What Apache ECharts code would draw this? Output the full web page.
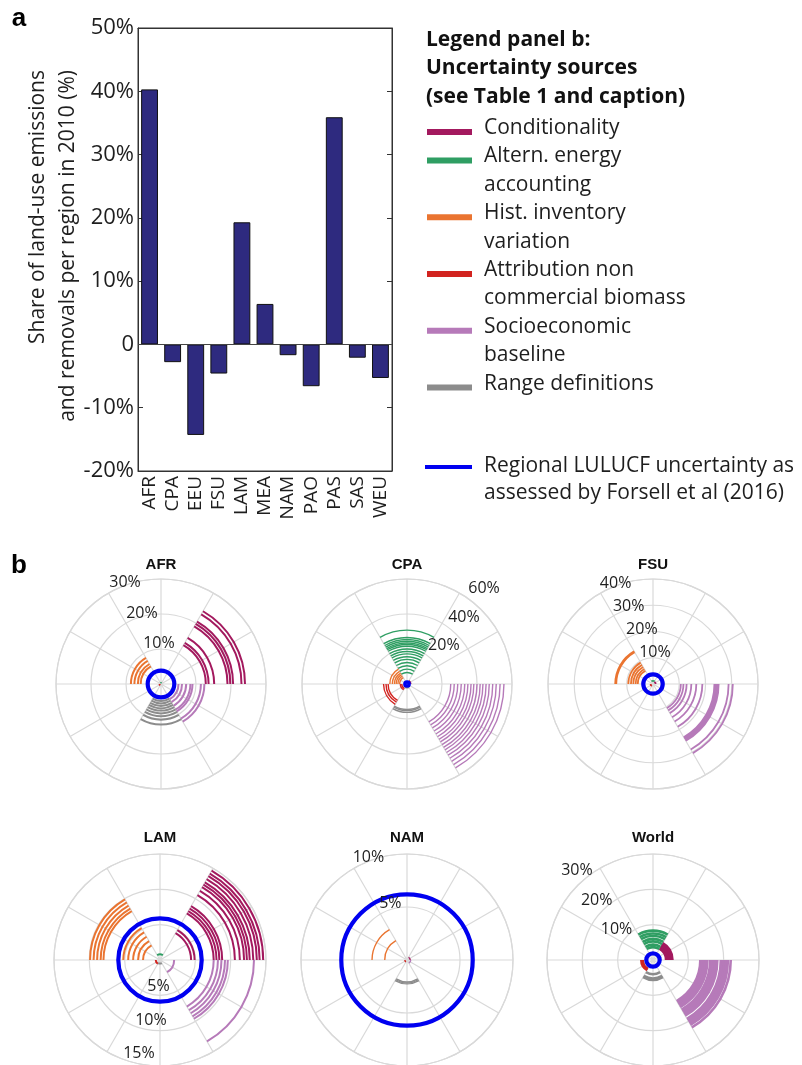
<!DOCTYPE html>
<html>
<head>
<meta charset="utf-8">
<script src="https://cdn.jsdelivr.net/npm/echarts/dist/echarts.min.js"></script>
<style>
  html, body { margin: 0; padding: 0; background: #ffffff; }
  #chart { width: 802px; height: 1065px; }
</style>
</head>
<body>
<div id="chart"></div>
<script>
// ---------- Panel a: share of land-use emissions and removals per region, 2010 ----------
const regions = ['AFR', 'CPA', 'EEU', 'FSU', 'LAM', 'MEA', 'NAM', 'PAO', 'PAS', 'SAS', 'WEU'];
const landUseShare = [40.3, -2.8, -14.3, -4.6, 19.3, 6.4, -1.7, -6.6, 35.9, -2.1, -5.3];
const shareTickLabels = ['-20%', '-10%', '0', '10%', '20%', '30%', '40%', '50%'];

// ---------- Panel b: uncertainty sources ----------
const sourceNames = [
  'Conditionality',
  'Altern. energy\naccounting',
  'Hist. inventory\nvariation',
  'Attribution non\ncommercial biomass',
  'Socioeconomic\nbaseline',
  'Range definitions'
];
const sourceColors = ['#a3195e', '#2f9e63', '#ea7430', '#d2231f', '#b67ab9', '#8c8c8c'];
// start angle (deg, counter-clockwise from east) of each source's 60° wedge
const sourceWedgeStart = [0, 60, 120, 180, 300, 240];
const lulucfName = 'Regional LULUCF uncertainty as\nassessed by Forsell et al (2016)';
const lulucfColor = '#0000f0';

// uncertainty ranges (%) per source: [conditionality, energy, inventory, attribution, socioeconomic, range]
const afrRanges = [
  [12.8, 13.6, 15.2, 19.0, 19.8, 20.6, 23.0, 24.0],
  [0.3],
  [5.8, 6.6, 7.6, 8.6],
  [0.4],
  [5.0, 6.0, 7.2, 8.4, 9.0, 11.4, 12.4],
  [4.8, 5.5, 6.2, 6.9, 7.6, 8.4, 9.2, 10.2, 11.6]
];
const cpaRanges = [
  [1.6, 2.2],
  [6.5, 8.4, 10.3, 12.2, 14.0, 15.6, 17.2, 18.6, 20.0, 21.6, 22.6, 23.4, 24.4, 25.4, 26.6, 30.8],
  [4.2, 5.2, 6.2, 7.2, 8.4, 9.8],
  [3.0, 3.8, 10.8, 12.0, 13.4],
  [25.0, 27.0, 29.0, 31.0, 33.0, 34.8, 36.6, 38.2, 40.0, 41.8, 43.4, 45.2, 47.0, 49.0, 51.0, 53.2, 55.4],
  [2.2, 14.6, 15.2, 16.2]
];
const fsuRanges = [
  [1.0],
  [1.2],
  [5.8, 6.6, 7.5, 8.4, 9.4, 14.0, 14.4],
  [0.9],
  [10.6, 11.6, 12.8, 14.6, 16.5, 18.8, 23.4, 23.8, 24.2, 24.6, 25.0, 28.8, 30.4],
  []
];
const lamRanges = [
  [4.4, 4.9, 7.6, 8.0, 8.4, 8.8, 10.6, 11.3, 11.9, 12.3, 12.7, 13.2, 13.7, 14.1, 14.6],
  [0.8],
  [2.4, 3.1, 3.8, 4.5, 5.2, 8.0, 8.4, 8.9, 9.4, 9.9],
  [0.6],
  [2.0, 7.6, 8.2, 8.7, 9.2, 9.6, 13.3],
  [0.5]
];
const namRanges = [
  [0.3],
  [],
  [2.1, 3.3],
  [0.2],
  [0.35],
  [2.05, 2.15, 2.25]
];
const worldRanges = [
  [3.7, 4.0, 4.3, 4.6, 4.9, 5.2, 5.5],
  [3.6, 4.3, 5.2, 5.9, 6.8, 7.5, 8.3],
  [],
  [2.9, 3.3],
  [13.4, 13.9, 14.4, 14.9, 15.4, 16.2, 16.7, 17.2, 17.7, 18.2, 19.2, 19.7, 20.2, 20.7, 21.2, 22.0],
  [4.0, 5.2, 5.6]
];

// regional LULUCF uncertainty (%)
const lulucfUncertainty = { AFR: 3.8, CPA: 1.0, FSU: 3.7, LAM: 5.9, NAM: 6.2, World: 1.9 };

// radial tick values (%) per panel
const afrTicks = [10, 20, 30];
const cpaTicks = [20, 40, 60];
const fsuTicks = [10, 20, 30, 40];
const lamTicks = [5, 10, 15];
const namTicks = [5, 10];
const worldTicks = [10, 20, 30];

const panels = [
  { name: 'AFR',   ranges: afrRanges,   ticks: afrTicks },
  { name: 'CPA',   ranges: cpaRanges,   ticks: cpaTicks },
  { name: 'FSU',   ranges: fsuRanges,   ticks: fsuTicks },
  { name: 'LAM',   ranges: lamRanges,   ticks: lamTicks },
  { name: 'NAM',   ranges: namRanges,   ticks: namTicks },
  { name: 'World', ranges: worldRanges, ticks: worldTicks }
];

// placement and styling of the six polar plots
const polarLayout = [
  { center: [161, 684], radius: 105, titleY: 565, labelAngle: 119, align: 'left',  vAlign: 'bottom', arcWidth: 2.0 },
  { center: [407, 684], radius: 105, titleY: 565, labelAngle: 55,  align: 'left',  vAlign: 'bottom', arcWidth: 1.4 },
  { center: [653, 684], radius: 105, titleY: 565, labelAngle: 120, align: 'left',  vAlign: 'bottom', arcWidth: 1.8 },
  { center: [160, 960], radius: 106, titleY: 838, labelAngle: 250, align: 'left',  vAlign: 'bottom', arcWidth: 2.0 },
  { center: [407, 960], radius: 106, titleY: 838, labelAngle: 120, align: 'left',  vAlign: 'bottom', arcWidth: 1.4 },
  { center: [653, 960], radius: 106, titleY: 838, labelAngle: 124, align: 'right', vAlign: 'middle', arcWidth: 2.6 }
];

const TEXT = '#1e1e1e';
const GRIDLINE = '#d9d9d9';
const SANS = '"Open Sans", "Noto Sans", sans-serif';
const ARIAL = '"Liberation Sans", Arial, sans-serif';

const chart = echarts.init(document.getElementById('chart'), null, { renderer: 'canvas' });

// ---------- polar components ----------
const polar = [], angleAxis = [], radiusAxis = [], polarSeries = [];
panels.forEach((p, i) => {
  const lay = polarLayout[i];
  const step = p.ticks[0];
  polar.push({ center: lay.center, radius: lay.radius });
  angleAxis.push({
    polarIndex: i, type: 'value', min: 0, max: 360, interval: 30,
    startAngle: 0, clockwise: false,
    axisLine: { show: true, lineStyle: { color: GRIDLINE, width: 1.2 } },
    axisTick: { show: false }, axisLabel: { show: false },
    splitLine: { show: true, lineStyle: { color: GRIDLINE, width: 1.2 } }
  });
  radiusAxis.push({
    polarIndex: i, type: 'value', min: 0, max: p.ticks[p.ticks.length - 1], interval: step,
    axisLine: { show: false }, axisTick: { show: false }, axisLabel: { show: false },
    splitLine: { show: true, lineStyle: { color: GRIDLINE, width: 1.2 } }
  });

  const items = [];
  p.ranges.forEach((vals, s) => vals.forEach(v => items.push([v, s])));
  items.push([lulucfUncertainty[p.name], 6]);

  polarSeries.push({
    type: 'custom', coordinateSystem: 'polar', polarIndex: i, silent: true,
    data: items,
    renderItem: function (params, api) {
      const v = api.value(0), s = api.value(1);
      const c = api.coord([0, 0]);
      const q = api.coord([v, 0]);
      const r = Math.hypot(q[0] - c[0], q[1] - c[1]);
      if (s === 6) {
        return { type: 'circle', shape: { cx: c[0], cy: c[1], r: r },
                 style: { fill: 'none', stroke: lulucfColor, lineWidth: 4.2 }, z2: 10 };
      }
      const a0 = sourceWedgeStart[s];
      return {
        type: 'arc',
        shape: { cx: c[0], cy: c[1], r: r,
                 startAngle: -(a0 + 60) * Math.PI / 180, endAngle: -a0 * Math.PI / 180, clockwise: true },
        style: { fill: 'none', stroke: sourceColors[s], lineWidth: lay.arcWidth }
      };
    }
  });

  // radial tick labels
  polarSeries.push({
    type: 'custom', coordinateSystem: 'polar', polarIndex: i, silent: true,
    data: p.ticks.map(t => [t, lay.labelAngle]),
    renderItem: function (params, api) {
      const t = api.value(0);
      const q = api.coord([t + step * 0.05, lay.labelAngle]);
      return {
        type: 'text', x: q[0], y: q[1], z2: 20,
        style: { text: t + '%', fill: TEXT, font: '16px ' + SANS, align: lay.align, verticalAlign: lay.vAlign }
      };
    }
  });
});

// ---------- graphic texts: panel letters, axis title, polar titles, legend ----------
const graphics = [
  { type: 'text', x: 19, y: 19, style: { text: 'a', font: 'bold 26px ' + ARIAL, fill: '#000', align: 'center', verticalAlign: 'middle' } },
  { type: 'text', x: 19, y: 566, style: { text: 'b', font: 'bold 26px ' + ARIAL, fill: '#000', align: 'center', verticalAlign: 'middle' } },
  { type: 'text', x: 38, y: 70, rotation: Math.PI / 2,
    style: { text: 'Share of land-use emissions', font: '21px ' + SANS, fill: TEXT, align: 'right', verticalAlign: 'middle' } },
  { type: 'text', x: 68, y: 70, rotation: Math.PI / 2,
    style: { text: 'and removals per region in 2010 (%)', font: '21px ' + SANS, fill: TEXT, align: 'right', verticalAlign: 'middle' } }
];
panels.forEach((p, i) => {
  const lay = polarLayout[i];
  graphics.push({ type: 'text', x: lay.center[0], y: lay.titleY,
    style: { text: p.name, font: 'bold 15px ' + ARIAL, fill: '#111', align: 'center', verticalAlign: 'middle' } });
});

const LEG_X = 426, LEG_LH = 28.4;
graphics.push({ type: 'text', x: LEG_X, y: 40 - LEG_LH / 2,
  style: { text: 'Legend panel b:\nUncertainty sources\n(see Table 1 and caption)',
           font: 'bold 21px ' + SANS, fill: '#111', lineHeight: LEG_LH, align: 'left', verticalAlign: 'top' } });
let line = 0;
sourceNames.forEach((name, s) => {
  const cy = 128 + line * LEG_LH;
  graphics.push({ type: 'rect', shape: { x: LEG_X + 1, y: cy + 1, width: 45, height: 6 }, style: { fill: sourceColors[s] } });
  graphics.push({ type: 'text', x: 484, y: cy - LEG_LH / 2,
    style: { text: name, font: '21px ' + SANS, fill: TEXT, lineHeight: LEG_LH, align: 'left', verticalAlign: 'top' } });
  line += name.split('\n').length;
});
graphics.push({ type: 'rect', shape: { x: LEG_X - 1, y: 465, width: 47, height: 4 }, style: { fill: lulucfColor } });
graphics.push({ type: 'text', x: 484, y: 467 - LEG_LH / 2,
  style: { text: lulucfName, font: '21px ' + SANS, fill: TEXT, lineHeight: 27, align: 'left', verticalAlign: 'top' } });

// ---------- option ----------
const option = {
  backgroundColor: '#ffffff',
  animation: false,
  grid: { left: 138, top: 28, width: 254, height: 443, show: true, borderColor: '#333', borderWidth: 1, backgroundColor: 'transparent' },
  xAxis: [
    { type: 'category', data: regions, position: 'bottom',
      axisLine: { onZero: false, lineStyle: { color: '#333', width: 1 } },
      axisTick: { inside: true, alignWithLabel: true, length: 5, interval: 0, lineStyle: { color: '#333' } },
      axisLabel: { rotate: 90, interval: 0, fontSize: 19, fontFamily: SANS, color: TEXT, margin: 5 } },
    { type: 'category', data: regions, position: 'top',
      axisLine: { onZero: false, lineStyle: { color: '#333', width: 1 } },
      axisTick: { inside: true, alignWithLabel: true, length: 5, interval: 0, lineStyle: { color: '#333' } },
      axisLabel: { show: false } }
  ],
  yAxis: [
    { type: 'value', min: -20, max: 50, interval: 10, position: 'left',
      axisLine: { show: true, lineStyle: { color: '#333', width: 1 } },
      axisTick: { show: true, inside: true, length: 5, lineStyle: { color: '#333' } },
      splitLine: { show: false },
      axisLabel: { fontSize: 22, fontFamily: SANS, color: TEXT, margin: 4,
                   formatter: v => shareTickLabels[Math.round((v + 20) / 10)] } },
    { type: 'value', min: -20, max: 50, interval: 10, position: 'right',
      axisLine: { show: true, lineStyle: { color: '#333', width: 1 } },
      axisTick: { show: true, inside: true, length: 5, lineStyle: { color: '#333' } },
      splitLine: { show: false }, axisLabel: { show: false } }
  ],
  polar: polar,
  angleAxis: angleAxis,
  radiusAxis: radiusAxis,
  series: [
    { type: 'bar', xAxisIndex: 0, yAxisIndex: 0, data: landUseShare, barCategoryGap: '27%',
      itemStyle: { color: '#2e2a7f', borderColor: '#111', borderWidth: 1 },
      markLine: { silent: true, symbol: 'none', label: { show: false },
                  lineStyle: { color: '#444', width: 1, type: 'solid' }, data: [{ yAxis: 0 }] } }
  ].concat(polarSeries),
  graphic: graphics
};

chart.setOption(option);
</script>
</body>
</html>
